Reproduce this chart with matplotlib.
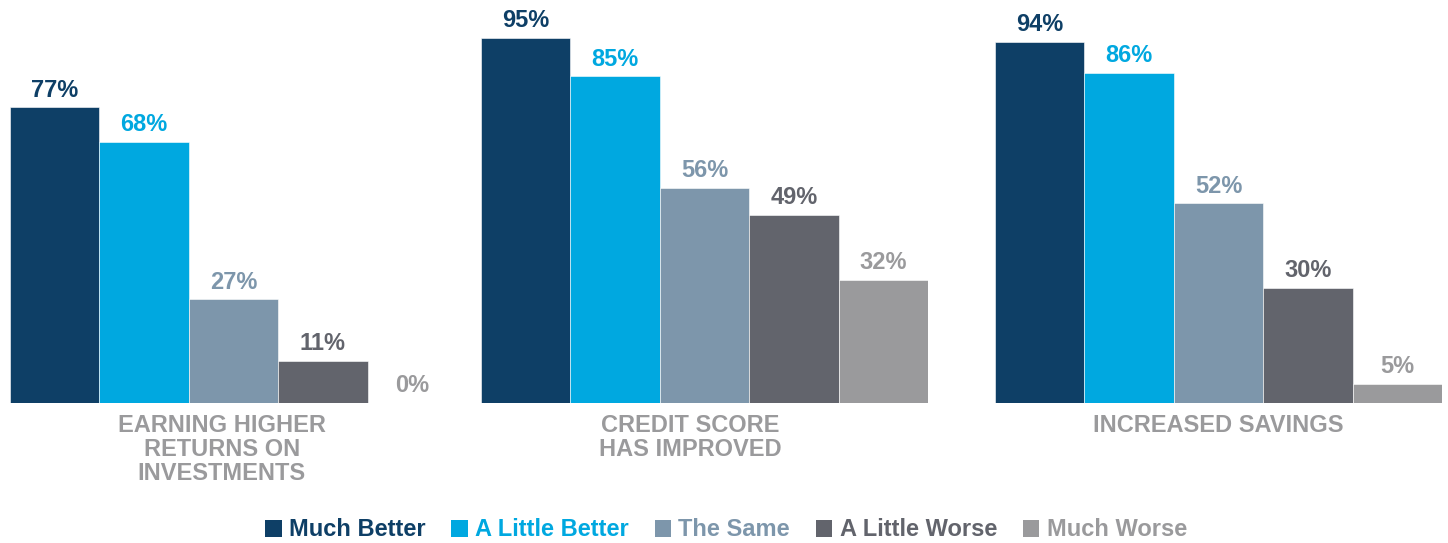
import matplotlib
matplotlib.use("Agg")
import matplotlib.pyplot as plt
from matplotlib.patches import Patch

plt.rcParams['font.family'] = ['Liberation Sans', 'DejaVu Sans']

series = ["Much Better", "A Little Better", "The Same", "A Little Worse", "Much Worse"]
colors = ["#0E3F66", "#00A8E0", "#7D96AB", "#62646C", "#9A9A9C"]
categories = ["EARNING HIGHER\nRETURNS ON\nINVESTMENTS",
              "CREDIT SCORE\nHAS IMPROVED",
              "INCREASED SAVINGS"]
earning_returns = [77, 68, 27, 11, 0]
credit_score = [95, 85, 56, 49, 32]
increased_savings = [94, 86, 52, 30, 5]
panel_values = [earning_returns, credit_score, increased_savings]

W, H = 1448, 543
fig = plt.figure(figsize=(W / 100, H / 100), dpi=100)

panel_left = [10, 481, 995]
panel_width = 447
base_y = 403
top_y = 38
label_center = [1.87, 1.84, 2.0]

for left, vals, cat, lc in zip(panel_left, panel_values, categories, label_center):
    ax = fig.add_axes([left / W, (H - base_y) / H, panel_width / W, (base_y - top_y) / H])
    xs = list(range(len(vals)))
    ax.bar(xs, vals, width=1.0, color=colors, edgecolor="white", linewidth=0.4)
    ax.set_xlim(-0.5, 4.5)
    ax.set_ylim(0, 95)
    ax.axis("off")
    for x, v, c in zip(xs, vals, colors):
        ax.annotate(f"{v}%", (x, v), xytext=(0, 4), textcoords="offset points",
                    ha="center", va="bottom", fontsize=17, fontweight="bold",
                    color=c, clip_on=False)
    ax.annotate(cat, (lc, 0), xytext=(0, -8), textcoords="offset points",
                ha="center", va="top", fontsize=17, fontweight="bold",
                color="#9A9A9C", linespacing=1.05, clip_on=False)

handles = [Patch(facecolor=c, edgecolor="none") for c in colors]
fig.legend(handles, series, loc="center", bbox_to_anchor=(726 / W, 13 / H),
           ncol=5, frameon=False, labelcolor=colors,
           prop={"size": 17, "weight": "bold"},
           handlelength=0.7, handleheight=0.7, handletextpad=0.3,
           columnspacing=1.1)

fig.savefig("out.png", dpi=100)
